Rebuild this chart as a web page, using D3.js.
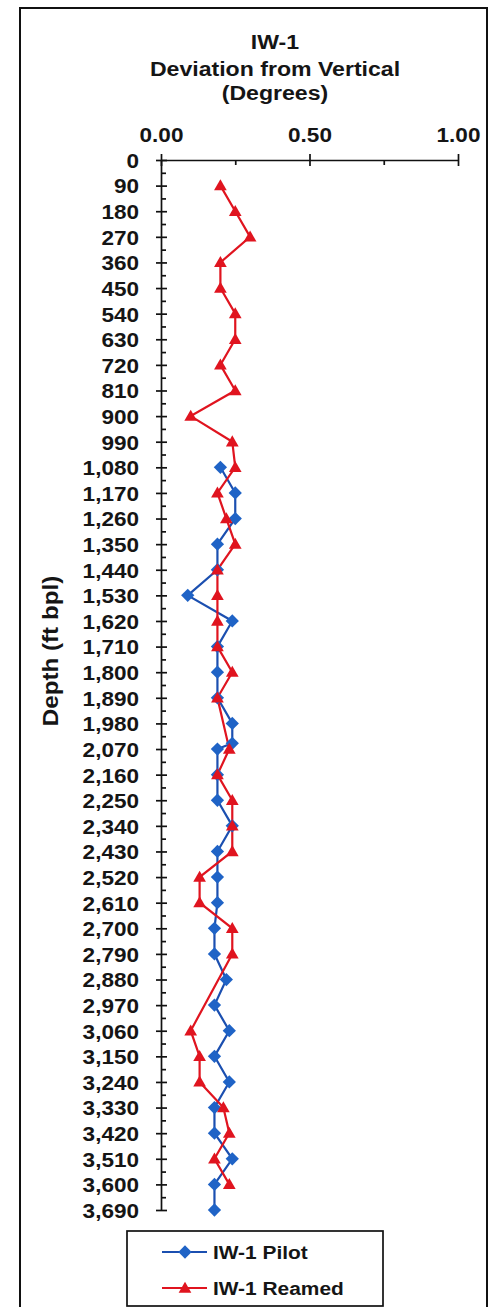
<!DOCTYPE html>
<html><head><meta charset="utf-8">
<script src="https://cdn.jsdelivr.net/npm/d3@7"></script>
<style>
body{margin:0;background:#fff}
svg{display:block}
text{font-family:"Liberation Sans",Arial,Helvetica,sans-serif;font-weight:bold;fill:#151515}
</style>
</head><body><svg id="c" width="493" height="1307"></svg>
<script>
// ---------- data ----------
const titleLines = ["IW-1", "Deviation from Vertical", "(Degrees)"];
const yAxisTitle = "Depth (ft bpl)";
const xTicks = [0, 0.5, 1];
const xMinorTicks = [0.25, 0.75];
const depthTicks = [0,90,180,270,360,450,540,630,720,810,900,990,1080,1170,1260,1350,1440,1530,1620,1710,1800,1890,1980,2070,2160,2250,2340,2430,2520,2610,2700,2790,2880,2970,3060,3150,3240,3330,3420,3510,3600,3690];
const depthMinorTicks = [45,135,225,315,405,495,585,675,765,855,945,1035,1125,1215,1305,1395,1485,1575,1665,1755,1845,1935,2025,2115,2205,2295,2385,2475,2565,2655,2745,2835,2925,3015,3105,3195,3285,3375,3465,3555,3645];
const seriesNames = ["IW-1 Pilot", "IW-1 Reamed"];

const pilotDepth = [1080,1170,1260,1350,1440,1530,1620,1710,1800,1890,1980,2050,2070,2160,2250,2340,2430,2520,2610,2700,2790,2880,2970,3060,3150,3240,3330,3420,3510,3600,3690];
const pilotDev   = [0.20,0.25,0.25,0.19,0.19,0.09,0.24,0.19,0.19,0.19,0.24,0.24,0.19,0.19,0.19,0.24,0.19,0.19,0.19,0.18,0.18,0.22,0.18,0.23,0.18,0.23,0.18,0.18,0.24,0.18,0.18];

const reamedDepth = [90,180,270,360,450,540,630,720,810,900,990,1080,1170,1260,1350,1440,1530,1620,1710,1800,1890,2070,2160,2250,2340,2430,2520,2610,2700,2790,3060,3150,3240,3330,3420,3510,3600];
const reamedDev   = [0.20,0.25,0.30,0.20,0.20,0.25,0.25,0.20,0.25,0.10,0.24,0.25,0.19,0.22,0.25,0.19,0.19,0.19,0.19,0.24,0.19,0.23,0.19,0.24,0.24,0.24,0.13,0.13,0.24,0.24,0.10,0.13,0.13,0.21,0.23,0.18,0.23];

// ---------- layout ----------
const SX = 1.1;           // horizontal glyph stretch of the original
const blueMarker = "#1f63c6", blueLine = "#1b4fb0", red = "#e0141f";

const svg = d3.select("#c");
svg.append("rect").attr("width",493).attr("height",1307).attr("fill","#fff");
svg.append("rect").attr("x",20).attr("y",8).attr("width",467).attr("height",1310)
  .attr("fill","none").attr("stroke","#111").attr("stroke-width",2);

const x = d3.scaleLinear().domain([0,1]).range([161,458]);
const y = d3.scaleLinear().domain([0,3690]).range([160,1210]);

function stretchText(g, tx, ty, str, size, anchor, rot){
  return g.append("text")
    .attr("transform", `translate(${tx},${ty})` + (rot?` rotate(${rot})`:"") + ` scale(${SX},1)`)
    .attr("text-anchor", anchor).style("font-size", size+"px").text(str);
}

// title
const titleY = [49, 76, 100];
titleLines.forEach((t,i)=> stretchText(svg, 275, titleY[i], t, 21, "middle"));

// y axis title
stretchText(svg, 58, 651, yAxisTitle, 22, "middle", -90);

// top axis (major)
const gx = svg.append("g").attr("transform", `translate(0,${y(0)})`)
  .call(d3.axisTop(x).tickValues(xTicks).tickFormat(d3.format(".2f")).tickSizeOuter(0));
gx.select(".domain").attr("stroke","#111").attr("stroke-width",1.7);
gx.selectAll(".tick line").attr("y1",-6).attr("y2",6).attr("stroke","#111").attr("stroke-width",1.7);
gx.selectAll(".tick text").attr("y",null).attr("dy",null)
  .attr("transform",`translate(0,-18) scale(${SX},1)`).style("font-size","20.5px").attr("fill","#151515")
  .attr("font-family",null).attr("font-size",null);

// top axis (minor)
const gxm = svg.append("g").attr("transform", `translate(0,${y(0)})`)
  .call(d3.axisTop(x).tickValues(xMinorTicks).tickFormat("").tickSize(-5).tickSizeOuter(0));
gxm.select(".domain").remove();
gxm.selectAll(".tick line").attr("stroke","#111").attr("stroke-width",1.7);

// left axis (major)
const gy = svg.append("g").attr("transform", `translate(${x(0)},0)`)
  .call(d3.axisLeft(y).tickValues(depthTicks).tickFormat(d3.format(",")).tickSizeOuter(0));
gy.select(".domain").attr("stroke","#111").attr("stroke-width",1.7);
gy.selectAll(".tick line").attr("x1",-5).attr("x2",6).attr("stroke","#111").attr("stroke-width",1.7);
gy.selectAll(".tick text").attr("x",null).attr("dy","0.36em")
  .attr("transform",`translate(-22,0) scale(${SX},1)`).style("font-size","20.5px").attr("fill","#151515")
  .attr("font-family",null).attr("font-size",null);

// left axis (minor)
const gym = svg.append("g").attr("transform", `translate(${x(0)},0)`)
  .call(d3.axisLeft(y).tickValues(depthMinorTicks).tickFormat("").tickSize(-5).tickSizeOuter(0));
gym.select(".domain").remove();
gym.selectAll(".tick line").attr("stroke","#111").attr("stroke-width",1.7);

// series
const pilot = pilotDepth.map((d,i)=>({d, v:pilotDev[i]}));
const reamed = reamedDepth.map((d,i)=>({d, v:reamedDev[i]}));
const line = d3.line().x(p=>x(p.v)).y(p=>y(p.d));

const diamond = d3.symbol().type(d3.symbolSquare).size(88);
const tri = d3.symbol().type(d3.symbolTriangle).size(70);

svg.append("path").datum(pilot).attr("d",line).attr("fill","none")
  .attr("stroke",blueLine).attr("stroke-width",2.2);
svg.append("path").datum(reamed).attr("d",line).attr("fill","none")
  .attr("stroke",red).attr("stroke-width",2.2);

svg.append("g").selectAll("path").data(pilot).join("path")
  .attr("d",diamond).attr("fill",blueMarker)
  .attr("transform",p=>`translate(${x(p.v)},${y(p.d)}) rotate(45)`);
svg.append("g").selectAll("path").data(reamed).join("path")
  .attr("d",tri).attr("fill",red)
  .attr("transform",p=>`translate(${x(p.v)},${y(p.d)+1})`);

// legend
const lg = svg.append("g");
lg.append("rect").attr("x",127).attr("y",1231).attr("width",256).attr("height",75)
  .attr("fill","#fff").attr("stroke","#111").attr("stroke-width",1.7);
const legendItems = [
  {name:seriesNames[0], color:blueLine, mcolor:blueMarker, sym:diamond, rot:45, cy:1252},
  {name:seriesNames[1], color:red, mcolor:red, sym:tri, rot:0, cy:1288}
];
legendItems.forEach(it=>{
  lg.append("line").attr("x1",162).attr("x2",207).attr("y1",it.cy).attr("y2",it.cy)
    .attr("stroke",it.color).attr("stroke-width",2);
  lg.append("path").attr("d",it.sym).attr("fill",it.mcolor)
    .attr("transform",`translate(185,${it.cy+(it.rot?0:1)})` + (it.rot?` rotate(${it.rot})`:""));
  stretchText(lg, 213, it.cy+7, it.name, 19, "start");
});
</script>
</body></html>
